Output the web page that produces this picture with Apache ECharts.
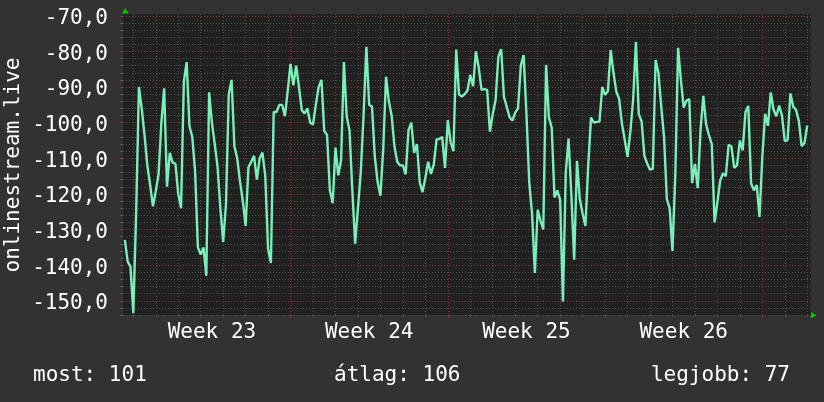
<!DOCTYPE html>
<html>
<head>
<meta charset="utf-8">
<script src="https://cdn.jsdelivr.net/npm/echarts@6/dist/echarts.min.js"></script>
<style>
html, body { margin: 0; padding: 0; background: #323232; }
#chart { width: 824px; height: 402px; }
</style>
</head>
<body>
<div id="chart"></div>
<script>
// labels
const weekLabels = ['Week 23', 'Week 24', 'Week 25', 'Week 26']
const statLabels = ['most: 101', 'átlag: 106', 'legjobb: 77']
const axisTitle = 'onlinestream.live'

// one sample every 3 hours, the first one 9 hours before the week 23 boundary
const startHour = -9
const stepHours = 3
const values = [
  -132.9, -139, -140.4, -153.5, -126, -90, -96, -103.5, -112, -117.5,
  -123.5, -119.3, -114.5, -100, -90.4, -118, -108.5, -111.2, -111.5, -120,
  -124, -88.5, -83, -101, -104, -113.5, -135, -137, -135, -143,
  -91.5, -100, -106, -112.3, -124, -133.5, -123, -92, -88, -106.6,
  -110, -116.5, -122, -129, -112.5, -111, -109.3, -116, -110, -108.4,
  -115, -135.5, -139.4, -97, -97, -95, -95, -98.2, -91, -83.5,
  -89.5, -84, -90, -96.5, -97.4, -96, -100, -100.5, -95, -90,
  -88, -102.3, -103.5, -119, -122.6, -107, -114.8, -110.5, -83, -98.3,
  -102.2, -119, -134, -124, -114, -98, -78.7, -95, -95.5, -109.5,
  -116.6, -120.5, -107.5, -87.1, -94, -98, -106.7, -111, -112, -112,
  -114.5, -102.1, -100, -108.5, -106, -116.8, -119.5, -115.5, -111, -114.4,
  -111.8, -104.7, -104.6, -104, -112.7, -99.3, -105.5, -108, -79.5, -92.1,
  -92.7, -92, -91, -86.6, -89.8, -80, -84.5, -90.8, -90.6, -90.8,
  -102.5, -97.6, -93.7, -81.5, -79.4, -92.8, -95.6, -98.5, -99.4, -97.2,
  -96,
  -84, -81, -97.5, -116.8, -125.5, -142.2, -124.5, -127.5, -130, -83.8,
  -98.6, -101.4, -121, -119, -121.7, -150.2, -114, -104.5, -120.3, -138.5,
  -110.7, -121.5, -125.5, -129, -112, -98.6, -100, -99.8, -99.7, -90,
  -92.2, -91.2, -79.6, -86, -91.3, -93.3, -100.2, -104.8, -109.6, -102.5,
  -93.5, -77.3, -97.6, -99.6, -109.3, -111.5, -113.2, -113, -82.4, -86,
  -95.5, -104, -121.5, -124, -136, -115, -79, -88, -95.8, -93.8,
  -93.4, -117, -111.6, -118.4, -102, -92.5, -100.6, -103.5, -106, -128,
  -122.3, -116.2,
  -114.2, -115, -106.2, -106.7, -112.7, -111.9, -105, -107.8, -97, -95.3,
  -117, -119, -117.5, -126.5, -109.5, -97.5, -100.9, -91.5, -96.4, -98.2,
  -95.2, -98, -105.2, -104.9, -91.8, -95.5, -96.4, -99.5, -106.6, -105.7,
  -100.8
]

// axis extents (hours from the week 23 boundary, dBm)
const hourMin = -11
const hourMax = 724
const yMin = -154
const yMax = -69.5

// category axes only carry the grid: one slot per hour / per half unit
const hours = []
for (let h = hourMin; h <= hourMax; h++) hours.push(String(h))
const levels = []
for (let v = yMin; v <= yMax; v += 0.5) levels.push(String(v))

const points = values.map((v, i) => [startHour + i * stepHours, v])

const mono = 'DejaVu Sans Mono'
const font = '21px "DejaVu Sans Mono"'
const minorLine = { color: '#4e4e4e', type: [1, 2], width: 1 }
const majorLine = { color: '#8a3434', type: [1, 2], width: 1 }
const isDay = (i) => (i + hourMin) % 24 === 0
const isWeek = (i) => (i + hourMin) % 168 === 0
const isMidWeek = (i) => (i + hourMin) % 168 === 84
const isMinorY = (i) => (yMin + i * 0.5) % 2 === 0
const isMajorY = (i) => (yMin + i * 0.5) % 10 === 0

const chart = echarts.init(document.getElementById('chart'))
chart.setOption({
  backgroundColor: '#323232',
  animation: false,
  grid: {
    left: 123, right: 13, top: 14, bottom: 87,
    show: true, backgroundColor: '#212121', borderWidth: 0
  },
  xAxis: [
    { type: 'value', min: hourMin, max: hourMax, show: false, position: 'bottom' },
    {
      type: 'category', data: hours, boundaryGap: false, position: 'bottom',
      axisLine: { show: false },
      axisTick: { show: true, interval: isDay, length: 2, lineStyle: { color: '#555' } },
      axisLabel: {
        interval: isMidWeek,
        formatter: (v) => weekLabels[(Number(v) - 84) / 168],
        color: '#fff', fontFamily: mono, fontSize: 21, margin: 7
      },
      splitLine: { show: true, interval: isDay, lineStyle: minorLine }
    },
    {
      type: 'category', data: hours, boundaryGap: false, position: 'bottom',
      axisLine: { show: false },
      axisLabel: { show: false },
      axisTick: { show: true, interval: isWeek, length: 3, lineStyle: { color: '#8a3434' } },
      splitLine: { show: true, interval: isWeek, lineStyle: majorLine }
    }
  ],
  yAxis: [
    { type: 'value', min: yMin, max: yMax, show: false, position: 'left' },
    {
      type: 'category', data: levels, boundaryGap: false, position: 'left',
      axisLine: { show: false },
      axisLabel: { show: false },
      axisTick: { show: true, interval: isMinorY, length: 3, lineStyle: { color: '#555' } },
      splitLine: { show: true, interval: isMinorY, lineStyle: minorLine }
    },
    {
      type: 'category', data: levels, boundaryGap: false, position: 'left',
      axisLine: { show: false },
      axisTick: { show: true, interval: isMajorY, length: 3, lineStyle: { color: '#8a3434' } },
      axisLabel: {
        interval: isMajorY,
        formatter: (v) => Number(v).toFixed(1).replace('.', ','),
        color: '#fff', fontFamily: mono, fontSize: 21, margin: 15,
        verticalAlign: 'top', lineHeight: 6
      },
      splitLine: { show: true, interval: isMajorY, lineStyle: majorLine }
    }
  ],
  series: [{
    type: 'line',
    xAxisIndex: 0,
    yAxisIndex: 0,
    data: points,
    symbol: 'none',
    lineStyle: { color: '#7aefba', width: 2.4 },
    z: 5
  }],
  graphic: [
    {
      type: 'text', x: 14, y: 165, rotation: Math.PI / 2,
      style: { text: axisTitle, fill: '#fff', font: font, align: 'center', verticalAlign: 'middle' }
    },
    { type: 'text', x: 33, y: 376, style: { text: statLabels[0], fill: '#fff', font: font, align: 'left', verticalAlign: 'middle' } },
    { type: 'text', x: 334, y: 376, style: { text: statLabels[1], fill: '#fff', font: font, align: 'left', verticalAlign: 'middle' } },
    { type: 'text', x: 790, y: 376, style: { text: statLabels[2], fill: '#fff', font: font, align: 'right', verticalAlign: 'middle' } },
    { type: 'polygon', shape: { points: [[122, 13.5], [128.5, 13.5], [125.25, 8]] }, style: { fill: '#00cc00' } },
    { type: 'polygon', shape: { points: [[811, 312], [811, 318.5], [816.5, 315.25]] }, style: { fill: '#00cc00' } }
  ]
})
</script>
</body>
</html>
